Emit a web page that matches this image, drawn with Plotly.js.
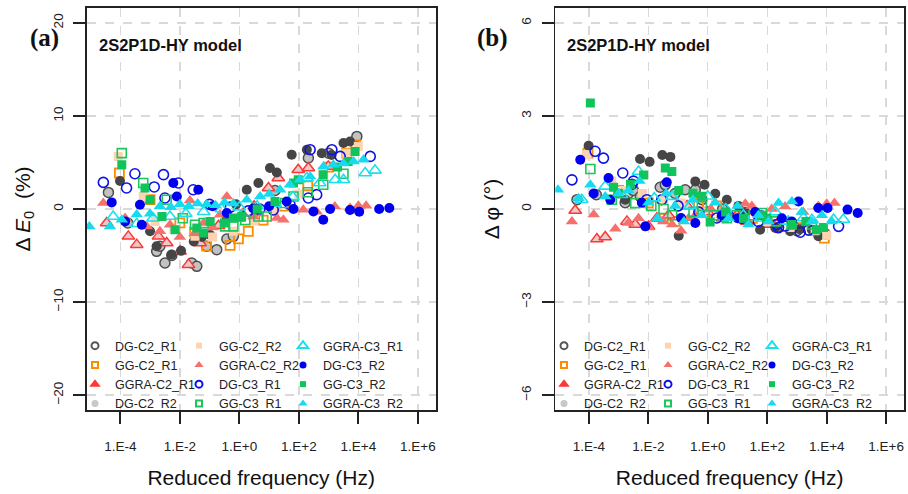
<!DOCTYPE html>
<html>
<head>
<meta charset="utf-8">
<script src="https://cdn.plot.ly/plotly-3.0.1.min.js"></script>
<style>html,body{margin:0;padding:0;background:#fff;}#chart{width:908px;height:494px;}</style>
</head>
<body>
<div id="chart"></div>
<script>
// ---------------- data (reduced frequency in Hz, ΔE0 in %, Δφ in degrees) ----------------
const seriesNames = ["DG-C2_R1","GG-C2_R1","GGRA-C2_R1","DG-C2_R2","GG-C2_R2","GGRA-C2_R2",
                     "DG-C3_R1","GG-C3_R1","GGRA-C3_R1","DG-C3_R2","GG-C3_R2","GGRA-C3_R2"];
const xTickVals = [1e-4, 1e-2, 1, 1e2, 1e4, 1e6];
const xTickText = ["1.E-4","1.E-2","1.E+0","1.E+2","1.E+4","1.E+6"];
const yTicksE = [-20, -10, 0, 10, 20];
const yTicksP = [-6, -3, 0, 3, 6];

const f_DG_C2_R1 = [3.98e-5,1.78e-4,1.66e-3,2.14e-3,3.16e-3,5.37e-3,2.51e-2,3.72e-2,7.94e-2,0.174,0.38,0.631,3.16,15.8,209,1000,8913];
const E_DG_C2_R1 = [1.78,-1.5,-4.55,-4.0,-5.8,-5.0,-5.8,-6.16,-4.0,-4.37,-3.22,-2.94,-1.0,2.0,5.48,6.0,7.8];
const P_DG_C2_R1 = [0.3,0.46,0.2,0.5,0.6,0.4,0.7,0.78,0.5,0.62,0.62,0.3,0.0,-0.3,-0.6,-0.7,-0.8];

const f_GG_C2_R1 = [9.33e-5,1e-3,1e-2,3.16e-2,7.94e-2,0.49,0.933,2.0,6.31,31.6,200,1000,4074,8318];
const E_GG_C2_R1 = [3.87,1.0,-1.5,-2.5,-4.0,-3.9,-3.2,-2.4,-1.2,0.3,2.5,4.5,6.0,6.9];
const P_GG_C2_R1 = [1.8,0.6,0.2,-0.3,-0.4,0.2,-0.1,0.1,-0.2,-0.3,-0.5,-0.6,-0.7,-0.94];

const f_GGRA_C2_R1 = [3.47e-5,1.86e-4,3.55e-4,1.91e-3,3.63e-3,1.02e-2,1.95e-2,4.79e-2,0.2,1,3.16,9.55,20.4,95.5,209,977];
const E_GGRA_C2_R1 = [-1.5,-2.94,-3.83,-2.94,-3.65,-4.55,-5.98,-3.65,-1.8,-1.0,0.3,2.26,3.33,4.22,4.4,4.58];
const P_GGRA_C2_R1 = [-0.05,-0.97,-0.9,-0.4,-0.5,-0.56,-0.3,-0.2,0.1,-0.1,-0.3,-0.2,-0.4,-0.5,-0.5,-0.6];

const f_DG_C2_R2 = [9.77e-5,1e-3,1.66e-3,5.25e-3,1.1e-2,2.95e-2,5.5e-2,0.105,0.38,0.776,1.78,4.37,10.7,18.2,57.5,186,589,1259,3162,5248];
const E_DG_C2_R2 = [3.0,-2.4,-4.0,-4.9,-4.5,-3.5,-3.0,-2.8,-1.0,0.5,2.07,2.8,4.4,3.93,5.83,6.37,6.0,5.8,7.09,7.26];
const P_DG_C2_R2 = [2.04,0.5,0.3,1.61,1.52,1.74,1.68,-0.86,0.89,0.78,0.49,0.3,0.1,-0.1,-0.67,-0.6,-0.72,-0.65,-0.67,-0.88];

const f_GG_C2_R2 = [8.51e-5,5.89e-4,1.48e-3,6.31e-3,3.24e-2,0.126,0.631,3.16,15.8,100,631,4074,1e4];
const E_GG_C2_R2 = [5.65,1.35,-1.33,-2.2,-2.94,-3.0,-2.4,-1.3,-0.2,1.6,4.0,6.0,6.73];
const P_GG_C2_R2 = [1.75,0.9,0.6,0.5,0.3,0.2,-0.1,-0.2,-0.3,-0.4,-0.6,-0.7,-0.85];

const f_GGRA_C2_R2 = [2.69e-5,1.45e-4,7.76e-4,2.14e-3,4.68e-3,2.19e-2,6.31e-2,0.224,0.38,1.26,2.95,18.2,30.2,141,398,1622,5248,1e4,1.82e4,1e-2,3.16e-2,0.126];
const E_GGRA_C2_R2 = [0.64,-0.97,-1.87,-2.4,-1.69,0.9,-1.5,-0.61,1.35,-0.4,-0.8,-0.97,-1.15,-0.08,-0.3,0.28,0.1,0.35,0.35,-3.0,-2.6,-2.0];
const P_GGRA_C2_R2 = [-0.4,-0.18,-0.64,-0.45,-0.3,-0.29,-0.5,-0.3,-0.2,0.0,-0.2,0.17,0.1,0.0,0.08,-0.1,0.1,0.17,0.19,-0.6,-0.4,-0.7];

const f_DG_C3_R1 = [2.69e-5,1.62e-4,3.09e-4,1.38e-3,2.82e-3,3.16e-3,8.91e-3,2.82e-2,0.1,0.501,2.0,4.9,13.8,50.1,209,240,398,1288,2455,2.51e4];
const E_DG_C3_R1 = [2.86,2.26,3.79,2.37,3.69,1.18,2.8,2.07,0.5,0.2,-0.2,0.0,-0.1,0.5,1.18,6.37,1.54,6.37,5.65,5.65];
const P_DG_C3_R1 = [0.94,1.86,1.64,1.16,0.8,0.9,0.3,0.3,0.1,-0.1,-0.29,-0.2,-0.3,-0.4,-0.5,-0.6,-0.55,-0.75,-0.68,-0.56];

const f_GG_C3_R1 = [1.12e-4,5.89e-4,3.63e-3,1.26e-2,3.24e-2,6.31e-2,0.331,0.631,1.58,4.37,8.32,34.7,66.1,200,661,3162];
const E_GG_C3_R1 = [6.0,2.8,1.0,-1.0,-1.69,-1.5,-1.87,-1.87,-1.2,-0.8,-0.8,0.64,1.35,1.8,2.61,3.79];
const P_GG_C3_R1 = [1.29,0.3,0.19,0.1,0.0,-0.2,-0.1,0.1,-0.2,-0.3,-0.2,-0.2,-0.13,-0.4,-0.5,-0.5];

const f_GGRA_C3_R1 = [5.75e-5,3.55e-4,1.26e-3,4.68e-3,1.58e-2,6.31e-2,0.251,1,3.98,15.8,63.1,186,501,1660,3162,1.7e4,3.63e4];
const E_GGRA_C3_R1 = [-0.8,-1.58,-1.0,-0.8,-0.5,-0.3,0.0,0.2,0.3,0.6,1.3,3.33,2.8,3.15,3.15,3.87,4.15];
const P_GGRA_C3_R1 = [0.3,0.73,0.46,1.21,0.35,0.4,0.1,0.41,0.0,-0.2,-0.3,-0.1,-0.4,-0.29,-0.35,-0.34,-0.34];

const f_DG_C3_R2 = [5.13e-5,1.45e-4,4.57e-4,5.25e-4,6.03e-3,7.94e-3,4.17e-2,0.126,0.38,2.95,10,38.9,66.1,309,661,1122,5248,1.07e4,5.01e4,1.1e5];
const E_DG_C3_R2 = [0.71,-1.33,0.46,-1.69,2.8,1.35,2.07,0.3,-0.43,0.05,0.3,0.8,0.0,-0.26,-1.15,0.0,-0.1,-0.3,0.0,0.1];
const P_DG_C3_R2 = [1.59,0.5,1.0,0.3,0.2,-0.56,0.86,-0.29,-0.45,-0.2,-0.3,-0.1,-0.2,-0.3,-0.4,0.24,0.03,0.03,-0.02,-0.13];

const f_GG_C3_R2 = [1.12e-4,6.76e-4,1e-3,2.51e-3,6.92e-3,3.72e-2,6.17e-2,0.105,0.316,0.631,1.2,3.98,15.8,66.1,95.5,661,1995,4571,7762];
const E_GG_C3_R2 = [4.76,2.26,1.0,-0.8,-2.22,-2.04,-2.58,-1.33,-1.5,-0.97,-0.8,0.0,0.8,2.8,3.15,3.69,4.5,5.11,6.19];
const P_GG_C3_R2 = [3.42,0.7,0.5,0.8,1.1,1.32,1.21,0.6,0.51,0.41,-0.42,-0.1,-0.3,-0.2,-0.3,-0.5,-0.4,-0.67,-0.6];

const f_GGRA_C3_R2 = [9.12e-6,4.47e-5,1.12e-4,3.55e-4,1e-3,2.14e-3,5.01e-3,1e-2,2e-2,3.98e-2,7.94e-2,0.158,0.316,0.631,1.78,5.01,10,23.4,50.1,110,240,676,1445,3162,6918,1.48e4];
const E_GGRA_C3_R2 = [-1.87,-1.87,-1.15,-0.6,-0.5,0.3,0.2,0.5,0.3,0.6,0.5,0.4,0.7,0.6,1.0,1.35,1.6,2.07,2.6,3.15,3.5,4.58,4.76,4.9,5.11,5.3];
const P_GGRA_C3_R2 = [0.62,0.35,0.78,0.4,0.5,0.6,0.9,0.2,-0.3,0.5,0.1,-0.4,0.3,-0.2,0.2,-0.3,0.1,-0.5,-0.2,-0.4,0.19,0.24,-0.1,-0.4,-0.2,-0.4];

const freqs = [f_DG_C2_R1,f_GG_C2_R1,f_GGRA_C2_R1,f_DG_C2_R2,f_GG_C2_R2,f_GGRA_C2_R2,f_DG_C3_R1,f_GG_C3_R1,f_GGRA_C3_R1,f_DG_C3_R2,f_GG_C3_R2,f_GGRA_C3_R2];
const dE = [E_DG_C2_R1,E_GG_C2_R1,E_GGRA_C2_R1,E_DG_C2_R2,E_GG_C2_R2,E_GGRA_C2_R2,E_DG_C3_R1,E_GG_C3_R1,E_GGRA_C3_R1,E_DG_C3_R2,E_GG_C3_R2,E_GGRA_C3_R2];
const dP = [P_DG_C2_R1,P_GG_C2_R1,P_GGRA_C2_R1,P_DG_C2_R2,P_GG_C2_R2,P_GGRA_C2_R2,P_DG_C3_R1,P_GG_C3_R1,P_GGRA_C3_R1,P_DG_C3_R2,P_GG_C3_R2,P_GGRA_C3_R2];

// ---------------- styles ----------------
const markerStyles = [
  {symbol:"circle", size:10, color:"#c2c2c2", line:{color:"#4d4d4d", width:1.5}},
  {symbol:"square-open", size:9, color:"#ff8c00", line:{color:"#ff8c00", width:1.8}},
  {symbol:"triangle-up", size:11, color:"#e9c9c9", line:{color:"#ff3636", width:1.5}},
  {symbol:"circle", size:10, color:"#454545", line:{color:"#454545", width:0}},
  {symbol:"square", size:9, color:"#fdd3b2", line:{color:"#fdd3b2", width:0}},
  {symbol:"triangle-up", size:11, color:"#f6706c", line:{color:"#f6706c", width:0}},
  {symbol:"circle-open", size:10, color:"#1010e8", line:{color:"#1010e8", width:1.6}},
  {symbol:"square-open", size:9, color:"#1fc45a", line:{color:"#1fc45a", width:1.6}},
  {symbol:"triangle-up-open", size:11, color:"#1ae0ee", line:{color:"#1ae0ee", width:1.6}},
  {symbol:"circle", size:10, color:"#0000f0", line:{color:"#0000f0", width:0}},
  {symbol:"square", size:9, color:"#10c45c", line:{color:"#10c45c", width:0}},
  {symbol:"triangle-up", size:11, color:"#16dbee", line:{color:"#16dbee", width:0}}
];
// smaller symbols used in the legend keys
const legendStyles = [
  {symbol:"circle-open", size:7, color:"#555555", line:{color:"#555555", width:2}},
  {symbol:"square-open", size:6, color:"#ff8c00", line:{color:"#ff8c00", width:2}},
  {symbol:"triangle-up", size:10, color:"#ff3636", line:{color:"#ff3636", width:0}},
  {symbol:"circle", size:7, color:"#c8c8c8", line:{width:0}},
  {symbol:"square", size:6, color:"#fdd3b2", line:{width:0}},
  {symbol:"triangle-up", size:8, color:"#f6706c", line:{width:0}},
  {symbol:"circle-open", size:7, color:"#1010e8", line:{color:"#1010e8", width:2}},
  {symbol:"square-open", size:6, color:"#1fc45a", line:{color:"#1fc45a", width:2}},
  {symbol:"triangle-up-open", size:9, color:"#1ae0ee", line:{color:"#1ae0ee", width:2}},
  {symbol:"circle", size:7, color:"#0000f0", line:{width:0}},
  {symbol:"square", size:6, color:"#10c45c", line:{width:0}},
  {symbol:"triangle-up", size:8, color:"#16dbee", line:{width:0}}
];

const FONT = "Liberation Sans, Arial, sans-serif";
const W = 908, H = 494;
const px = v => v / W, py = v => 1 - v / H;

const traces = [];
seriesNames.forEach((name, i) => {
  traces.push({type:"scatter", mode:"markers", name:name, x:freqs[i], y:dE[i], xaxis:"x", yaxis:"y",
               marker:markerStyles[i], showlegend:false});
  traces.push({type:"scatter", mode:"markers", name:name, x:freqs[i], y:dP[i], xaxis:"x2", yaxis:"y2",
               marker:markerStyles[i], showlegend:false});
});
// legend keys (no data drawn), one vertical legend per column in each panel
seriesNames.forEach((name, i) => {
  const col = Math.floor(i / 4);
  [["x","y", col], ["x2","y2", col + 3]].forEach(([xa, ya, k]) => {
    traces.push({type:"scatter", mode:"markers", name:name, x:[null], y:[null], xaxis:xa, yaxis:ya,
                 legend: k === 0 ? "legend" : "legend" + (k + 1), marker:legendStyles[i], showlegend:true});
  });
});

const xCommon = {
  type: "log", range: [-5.13, 6.6], tickvals: xTickVals, ticktext: xTickText,
  ticks: "outside", ticklen: 12, tickwidth: 2, tickcolor: "#222",
  showline: true, mirror: true, linecolor: "#222", linewidth: 1.8,
  showgrid: true, gridcolor: "#d9d9d9", griddash: "dash", gridwidth: 1.4,
  zeroline: false, tickfont: {family: FONT, size: 13.5, color: "#222"},
  ticklabelstandoff: 11,
  title: {text: "Reduced frequency (Hz)", font: {family: FONT, size: 21, color: "#111"}, standoff: 17}
};
const yCommon = {
  ticks: "outside", ticklen: 12, tickwidth: 2, tickcolor: "#222", tickangle: -90,
  showline: true, mirror: true, linecolor: "#222", linewidth: 1.8,
  showgrid: true, gridcolor: "#d9d9d9", griddash: "dash", gridwidth: 1.4,
  zeroline: false, tickfont: {family: FONT, size: 13.5, color: "#222"},
  ticklabelstandoff: 5
};

const legendCommon = {
  orientation: "v", bgcolor: "rgba(0,0,0,0)", borderwidth: 0,
  font: {family: FONT, size: 12.5, color: "#222"},
  xanchor: "left", yanchor: "top", y: py(331), itemclick: false, itemdoubleclick: false
};
const legendXs = [75, 179, 283, 544, 648, 752];

const layout = {
  width: W, height: H, paper_bgcolor: "#fff", plot_bgcolor: "#fff",
  margin: {l: 0, r: 0, t: 0, b: 0},
  showlegend: true,
  xaxis: Object.assign({}, xCommon, {domain: [px(86.7), px(435.7)], anchor: "y"}),
  xaxis2: Object.assign({}, xCommon, {domain: [px(555.3), px(904)], anchor: "y2"}),
  yaxis: Object.assign({}, yCommon, {domain: [1 - 410/H, 1 - 8/H], anchor: "x", range: [-21.6, 21.6], tickvals: yTicksE,
     title: {text: "Δ <i>E</i><sub>0</sub>  (%)", font: {family: FONT, size: 21, color: "#111"}, standoff: 14}}),
  yaxis2: Object.assign({}, yCommon, {domain: [1 - 410/H, 1 - 8/H], anchor: "x2", range: [-6.48, 6.48], tickvals: yTicksP,
     title: {text: "Δ φ (°)", font: {family: FONT, size: 21, color: "#111"}, standoff: 14}}),
  annotations: [
    {text: "<b>(a)</b>", xref: "paper", yref: "paper", x: px(28), y: py(22), showarrow: false,
     font: {family: "Liberation Serif, Times New Roman, serif", size: 25, color: "#111"}},
    {text: "<b>(b)</b>", xref: "paper", yref: "paper", x: px(493), y: py(22), showarrow: false,
     font: {family: "Liberation Serif, Times New Roman, serif", size: 25, color: "#111"}},
    {text: "<b>2S2P1D-HY model</b>", xref: "paper", yref: "paper", x: px(97), y: py(34), xanchor: "left", showarrow: false,
     font: {family: FONT, size: 16.5, color: "#111"}},
    {text: "<b>2S2P1D-HY model</b>", xref: "paper", yref: "paper", x: px(565), y: py(34), xanchor: "left", showarrow: false,
     font: {family: FONT, size: 16.5, color: "#111"}}
  ]
};
legendXs.forEach((lx, k) => {
  layout[k === 0 ? "legend" : "legend" + (k + 1)] = Object.assign({}, legendCommon, {x: px(lx)});
});

Plotly.newPlot("chart", traces, layout, {displayModeBar: false, staticPlot: true});
</script>
</body>
</html>
